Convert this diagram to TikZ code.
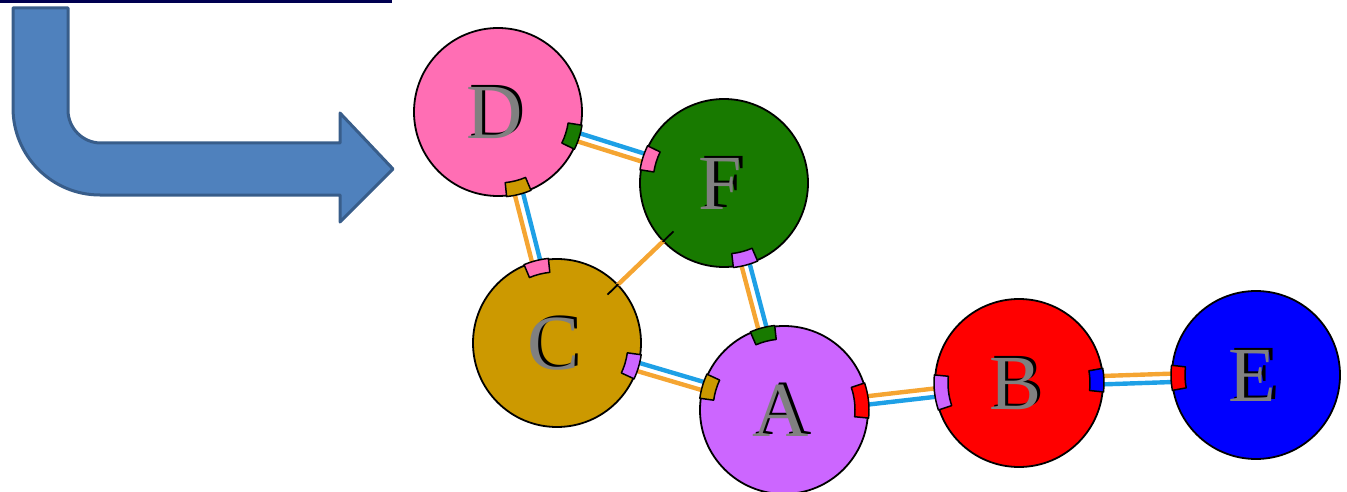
\documentclass[tikz,border=0pt]{standalone}
\usepackage{fontspec}
\setmainfont{Liberation Serif}
\usetikzlibrary{calc}

\definecolor{arrowfill}{RGB}{79,129,189}
\definecolor{arrowedge}{RGB}{56,93,138}
\definecolor{topbar}{RGB}{0,0,80}
\definecolor{cA}{RGB}{204,102,255}
\definecolor{cB}{RGB}{255,0,0}
\definecolor{cC}{RGB}{204,153,0}
\definecolor{cD}{RGB}{255,110,180}
\definecolor{cE}{RGB}{0,0,255}
\definecolor{cF}{RGB}{24,122,0}
\definecolor{linkorange}{RGB}{245,165,50}
\definecolor{linkblue}{RGB}{30,160,230}
\definecolor{lettergray}{RGB}{128,128,128}

% letter with a dark copy behind it
\newcommand{\ballletter}[1]{\makebox[0pt]{\color{black}#1}\makebox[0pt]{\kern-7pt\raisebox{-1.5pt}{\color{lettergray}#1}}}

% double connector: orange on the left of the direction #1 -> #2, blue on the right
\newcommand{\duallink}[2]{%
  \draw[orangeline] ($(#1.center)!84pt!(#2.center)!4.2pt!90:(#2.center)$) -- ($(#2.center)!84pt!(#1.center)!4.2pt!-90:(#1.center)$);
  \draw[blueline] ($(#1.center)!84pt!(#2.center)!4.2pt!-90:(#2.center)$) -- ($(#2.center)!84pt!(#1.center)!4.2pt!90:(#1.center)$);
}

% port box on the rim of ball #1, facing ball #2, fill #3, half-angle #4
\newcommand{\portmark}[4]{%
  \filldraw[portbox, fill=#3] let \p1=($(#2.center)-(#1.center)$), \n1={atan2(\y1,\x1)} in
    ($(#1.center)+(\n1-#4:85pt)$) arc[start angle=\n1-#4, end angle=\n1+#4, radius=85pt]
    -- ($(#1.center)+(\n1+#4:71pt)$) arc[start angle=\n1+#4, end angle=\n1-#4, radius=71pt] -- cycle;
}

% short black end mark of a plain connector, inside ball #1
\newcommand{\linktick}[2]{%
  \draw[tickline] ($(#1.center)!70pt!(#2.center)$) -- ($(#1.center)!85pt!(#2.center)$);
}

\tikzset{
  ball/.style={circle, draw=black, line width=1.8pt, minimum size=168pt, inner sep=0pt,
    font=\fontsize{78}{80}\selectfont},
  orangeline/.style={draw=linkorange, line width=4.4pt},
  blueline/.style={draw=linkblue, line width=4.4pt},
  portbox/.style={draw=black, line width=1.5pt, line join=round},
  tickline/.style={draw=black, line width=1.8pt},
  bentarrow/.style={fill=arrowfill, draw=arrowedge, line width=3pt, line join=round},
}

\begin{document}
\begin{tikzpicture}[x=1pt, y=1pt]
\useasboundingbox (0,0) rectangle (1347,491);

% bar along the top edge
\fill[topbar] (0,488) rectangle (392,491);

% bent arrow
\path[bentarrow] (13,483) -- (68,483) -- (68,381)
  arc[start angle=180, end angle=270, radius=33] -- (340,348) -- (340,378)
  -- (393,322) -- (340,269) -- (340,296) -- (100,296)
  arc[start angle=270, end angle=180, radius=87] -- cycle;

% balls
\node[ball, fill=cD] (D) at (498,379) {\ballletter{D}};
\node[ball, fill=cF] (F) at (724,308) {\ballletter{F}};
\node[ball, fill=cC] (C) at (557,148) {\ballletter{C}};
\node[ball, fill=cA] (A) at (784,81)  {\ballletter{A}};
\node[ball, fill=cB] (B) at (1019,108) {\ballletter{B}};
\node[ball, fill=cE] (E) at (1256,116) {\ballletter{E}};

% connectors
\duallink{F}{D}
\duallink{C}{D}
\duallink{A}{F}
\duallink{A}{C}
\duallink{A}{B}
\duallink{B}{E}
\draw[orangeline] ($(C.center)!84pt!(F.center)$) -- ($(F.center)!84pt!(C.center)$);
\linktick{C}{F}
\linktick{F}{C}

% port boxes
\portmark{D}{F}{cF}{8.5}
\portmark{F}{D}{cD}{8.5}
\portmark{D}{C}{cC}{8.5}
\portmark{C}{D}{cD}{8.5}
\portmark{F}{A}{cA}{8.5}
\portmark{A}{F}{cF}{8.5}
\portmark{C}{A}{cA}{8.5}
\portmark{A}{C}{cC}{8.5}
\portmark{A}{B}{cB}{12}
\portmark{B}{A}{cA}{12}
\portmark{B}{E}{cE}{8}
\portmark{E}{B}{cB}{8.5}
\end{tikzpicture}
\end{document}
